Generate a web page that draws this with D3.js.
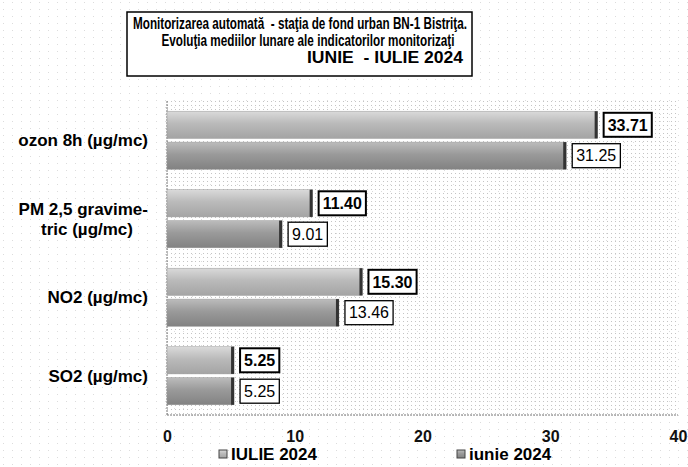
<!doctype html>
<html>
<head>
<meta charset="utf-8">
<title>BN-1 Bistrita</title>
<script src="https://cdn.jsdelivr.net/npm/d3@7"></script>
<style>
  body { margin: 0; background: #fff; }
  text { font-family: "Liberation Sans", Arial, sans-serif; }
</style>
</head>
<body>
<svg width="688" height="467"></svg>
<script>
var categories = ["ozon 8h (µg/mc)", "PM 2,5 gravime-|tric (µg/mc)", "NO2 (µg/mc)", "SO2 (µg/mc)"];
var seriesNames = ["IULIE 2024", "iunie 2024"];
var iulie = [33.71, 11.40, 15.30, 5.25];
var iunie = [31.25, 9.01, 13.46, 5.25];
var xTicks = [0, 10, 20, 30, 40];

var svg = d3.select("svg"),
    margin = {top: 101, right: 10, bottom: 52, left: 167},
    width = 678 - margin.left,
    height = 415 - margin.top;

var defs = svg.append("defs");
var dots = defs.append("pattern").attr("id", "dots")
    .attr("width", 4).attr("height", 4).attr("patternUnits", "userSpaceOnUse");
dots.append("rect").attr("width", 1).attr("height", 1).attr("fill", "#c4c4c4");
var faint = defs.append("pattern").attr("id", "faint")
    .attr("width", 9).attr("height", 7).attr("patternUnits", "userSpaceOnUse");
faint.append("rect").attr("x", 3).attr("y", 2).attr("width", 1).attr("height", 1).attr("fill", "#dcdcdc");

var fills = [["#dadada", "#bababa", "#a4a4a4"], ["#bcbcbc", "#9a9a9a", "#828282"]];
fills.forEach(function(c, i) {
  var gr = defs.append("linearGradient").attr("id", "g" + i)
      .attr("x1", 0).attr("y1", 0).attr("x2", 0).attr("y2", 1);
  gr.append("stop").attr("offset", "0%").attr("stop-color", c[0]);
  gr.append("stop").attr("offset", "45%").attr("stop-color", c[1]);
  gr.append("stop").attr("offset", "100%").attr("stop-color", c[2]);
});

svg.append("rect").attr("width", 688).attr("height", 467).attr("fill", "url(#faint)");

var x = d3.scaleLinear().domain([0, 40]).range([0, width]);
var y0 = d3.scaleBand().domain(categories).range([0, height]).paddingInner(0.26).paddingOuter(0.13);
var y1 = d3.scaleBand().domain([0, 1]).range([0, y0.bandwidth()]).paddingInner(0.12);

var g = svg.append("g").attr("transform", "translate(" + margin.left + "," + margin.top + ")");

g.append("rect").attr("width", width).attr("height", height).attr("fill", "url(#dots)");
g.append("line").attr("x1", 0).attr("x2", 0).attr("y1", 0).attr("y2", height)
    .attr("stroke", "#777").attr("stroke-dasharray", "2,1");
g.append("line").attr("x1", 0).attr("x2", width).attr("y1", height).attr("y2", height)
    .attr("stroke", "#777").attr("stroke-dasharray", "2,1");

var data = [];
categories.forEach(function(c, i) {
  data.push({cat: c, s: 0, v: iulie[i]});
  data.push({cat: c, s: 1, v: iunie[i]});
});

var bars = g.selectAll(".bar").data(data).enter().append("g")
    .attr("transform", function(d) { return "translate(0," + (y0(d.cat) + y1(d.s)) + ")"; });

bars.append("rect")
    .attr("width", function(d) { return x(d.v); })
    .attr("height", y1.bandwidth())
    .attr("fill", function(d) { return "url(#g" + d.s + ")"; })
    .attr("stroke", "#999").attr("stroke-width", 0.5);
bars.append("rect")
    .attr("x", function(d) { return x(d.v) - 3; })
    .attr("width", 3).attr("height", y1.bandwidth())
    .attr("fill", "#333");

bars.each(function(d) {
  var b = d3.select(this);
  var t = b.append("text")
      .attr("x", x(d.v) + 10)
      .attr("y", y1.bandwidth() / 2)
      .attr("dy", "0.36em")
      .attr("font-size", 16)
      .attr("font-weight", d.s === 0 ? "bold" : "normal")
      .text(d.v.toFixed(2));
  var bb = t.node().getBBox();
  b.insert("rect", "text")
      .attr("x", bb.x - 4).attr("y", y1.bandwidth() / 2 - 12)
      .attr("width", bb.width + 8).attr("height", 24)
      .attr("fill", "#fff").attr("stroke", "#000")
      .attr("stroke-width", d.s === 0 ? 2 : 1.3);
});

// category labels
g.selectAll(".cat").data(categories).enter().append("text")
    .attr("text-anchor", "end")
    .attr("font-size", 17).attr("font-weight", "bold")
    .attr("transform", function(d) { return "translate(-19," + (y0(d) + y0.bandwidth() / 2) + ")"; })
    .each(function(d) {
      var lines = d.split("|"), t = d3.select(this);
      lines.forEach(function(l, i) {
        t.append("tspan").attr("x", i ? -15 : 0)
            .attr("dy", i ? "1.2em" : (lines.length > 1 ? "-0.25em" : "0.35em"))
            .text(l);
      });
    });

// x axis
var xa = g.append("g").attr("transform", "translate(0," + height + ")")
    .call(d3.axisBottom(x).tickValues(xTicks).tickSize(0).tickPadding(16));
xa.select(".domain").remove();
xa.selectAll("text").attr("font-size", 16).attr("font-family", "Liberation Sans, Arial, sans-serif")
    .attr("font-weight", "bold").attr("fill", "#111");

// title
var title = ["Monitorizarea automată  - staţia de fond urban BN-1 Bistriţa.",
             "Evoluţia mediilor lunare ale indicatorilor monitorizaţi",
             "IUNIE  - IULIE 2024"];
var titleX = [300, 308, 385], titleW = [334, 293, 156];
svg.append("rect").attr("x", 127).attr("y", 12).attr("width", 345).attr("height", 64)
    .attr("fill", "#fff").attr("stroke", "#000").attr("stroke-width", 1.5);
svg.selectAll(".title").data(title).enter().append("text")
    .attr("x", function(d, i) { return titleX[i]; })
    .attr("y", function(d, i) { return 28.5 + i * 17; })
    .attr("text-anchor", "middle").attr("font-size", 16).attr("font-weight", "bold")
    .attr("textLength", function(d, i) { return titleW[i]; })
    .attr("lengthAdjust", "spacingAndGlyphs")
    .style("white-space", "pre")
    .text(function(d) { return d; });

// legend
var legend = svg.selectAll(".leg").data(seriesNames).enter().append("g")
    .attr("transform", function(d, i) { return "translate(" + (i ? 457 : 219) + ",454)"; });
legend.append("rect").attr("y", -4).attr("width", 8).attr("height", 8)
    .attr("fill", function(d, i) { return "url(#g" + i + ")"; }).attr("stroke", "#444");
legend.append("text").attr("x", 12).attr("dy", "0.36em")
    .attr("font-size", 17).attr("font-weight", "bold").text(function(d) { return d; });
</script>
</body>
</html>
